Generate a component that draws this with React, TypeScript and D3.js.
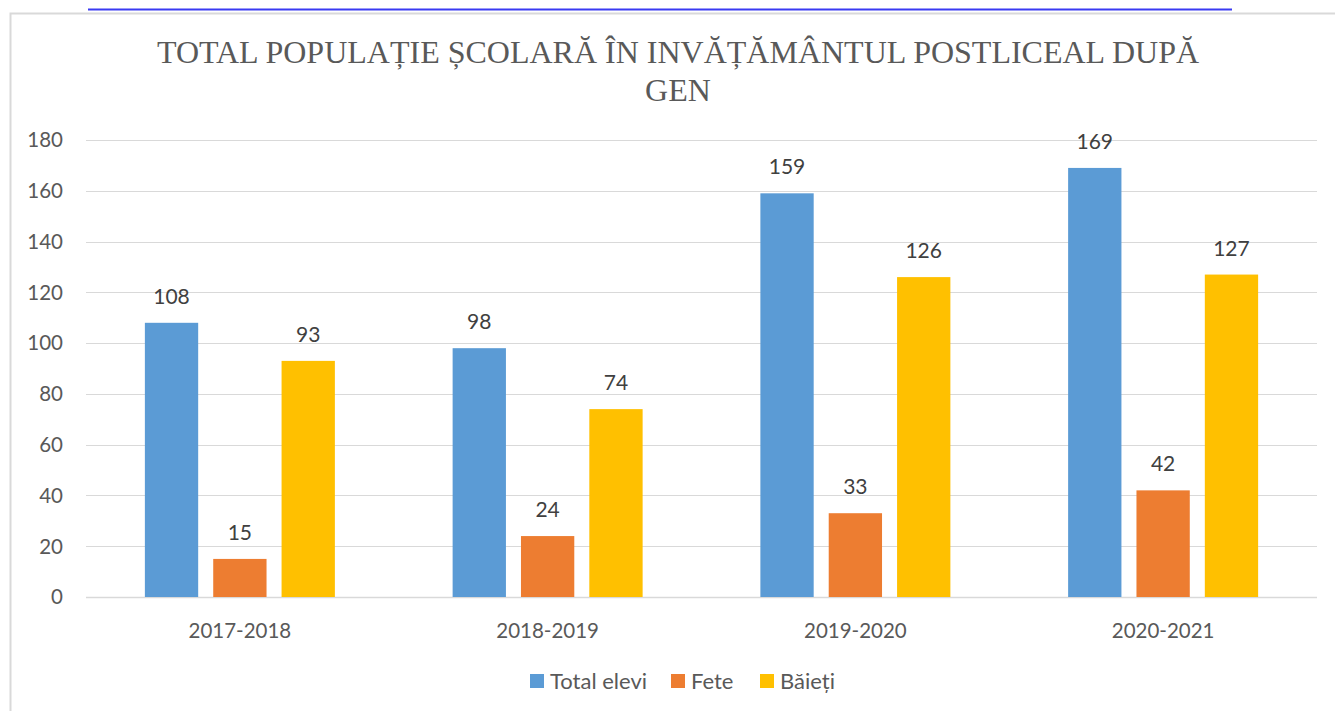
import React from "react";
import * as d3 from "d3";

const categories = ["2017-2018", "2018-2019", "2019-2020", "2020-2021"];
const seriesNames = ["Total elevi", "Fete", "Băieți"];
const totalElevi = [108, 98, 159, 169];
const fete = [15, 24, 33, 42];
const baieti = [93, 74, 126, 127];
const yTicks = [0, 20, 40, 60, 80, 100, 120, 140, 160, 180];
const colors = ["#5B9BD5", "#ED7D31", "#FFC000"];

const W = 1335;
const H = 711;
const plotLeft = 86;
const plotRight = 1317;
const plotTop = 140;
const plotBottom = 597;
const font = "Lato, 'Open Sans', sans-serif";

export default function App() {
  const seriesValues = [totalElevi, fete, baieti];
  const x0 = d3.scaleBand<string>().domain(categories).range([plotLeft, plotRight]).padding(0);
  const groupW = 190;
  const x1 = d3
    .scaleBand<string>()
    .domain(seriesNames)
    .range([0, groupW])
    .paddingInner(0.22)
    .paddingOuter(0);
  const y = d3.scaleLinear().domain([0, 180]).range([plotBottom, plotTop]);
  const offset = (x0.bandwidth() - groupW) / 2;

  return (
    <svg
      width={W}
      height={H}
      style={{ position: "absolute", left: 0, top: 0, background: "#fff" }}
    >
      <rect x={0} y={0} width={W} height={H} fill="#fff" />
      {/* top blue line */}
      <line x1={88} x2={1232} y1={9.5} y2={9.5} stroke="#3a3af2" strokeWidth={2} />
      {/* chart border */}
      <path d={`M10.5,${H} L10.5,13.5 L${W},13.5`} fill="none" stroke="#d9d9d9" strokeWidth={2} />

      {/* title */}
      <text
        x={678}
        textAnchor="middle"
        fill="#595959"
        style={{ fontFamily: "'Liberation Serif', 'Times New Roman', serif", fontSize: 32 }}
      >
        <tspan x={678} y={63}>TOTAL POPULAȚIE ȘCOLARĂ ÎN INVĂȚĂMÂNTUL POSTLICEAL DUPĂ</tspan>
        <tspan x={678} y={101}>GEN</tspan>
      </text>

      {/* gridlines */}
      {yTicks.map((t) => (
        <g key={t}>
          <line
            x1={plotLeft}
            x2={plotRight}
            y1={Math.round(y(t)) + 0.5}
            y2={Math.round(y(t)) + 0.5}
            stroke="#d9d9d9"
            strokeWidth={t === 0 ? 1.5 : 1}
          />
          <text
            x={63}
            y={y(t)}
            dy="0.36em"
            textAnchor="end"
            fill="#595959"
            style={{ fontFamily: font, fontSize: 20.5 }}
          >
            {t}
          </text>
        </g>
      ))}

      {/* bars */}
      {categories.map((c, ci) => (
        <g key={c} transform={`translate(${(x0(c) ?? 0) + offset},0)`}>
          {seriesNames.map((s, si) => {
            const v = seriesValues[si][ci];
            const bx = x1(s) ?? 0;
            return (
              <g key={s}>
                <rect
                  x={bx}
                  y={y(v)}
                  width={x1.bandwidth()}
                  height={plotBottom - y(v)}
                  fill={colors[si]}
                />
                <text
                  x={bx + x1.bandwidth() / 2}
                  y={y(v) - 19}
                  textAnchor="middle"
                  fill="#404040"
                  style={{ fontFamily: font, fontSize: 21 }}
                >
                  {v}
                </text>
              </g>
            );
          })}
        </g>
      ))}

      {/* category labels */}
      {categories.map((c) => (
        <text
          key={c}
          x={(x0(c) ?? 0) + x0.bandwidth() / 2}
          y={638}
          textAnchor="middle"
          fill="#595959"
          style={{ fontFamily: font, fontSize: 20.5 }}
        >
          {c}
        </text>
      ))}

      {/* legend */}
      {seriesNames.map((s, i) => {
        const lx = [530, 671, 760][i];
        return (
          <g key={s}>
            <rect x={lx} y={674} width={14} height={14} fill={colors[i]} />
            <text
              x={lx + 20}
              y={689}
              fill="#595959"
              style={{ fontFamily: font, fontSize: 22 }}
            >
              {s}
            </text>
          </g>
        );
      })}
    </svg>
  );
}
